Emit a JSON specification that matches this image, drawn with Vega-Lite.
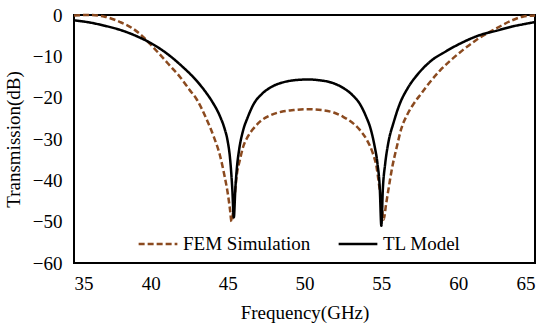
{
  "$schema": "https://vega.github.io/schema/vega-lite/v6.json",
  "width": 461,
  "height": 248,
  "autosize": {"type": "none"},
  "padding": {"left": 74, "top": 15, "right": 15, "bottom": 67},
  "background": "white",
  "config": {
    "view": {"stroke": "black", "strokeWidth": 2},
    "font": "Liberation Serif",
    "axis": {
      "grid": false, "ticks": false, "domain": false,
      "labelFont": "Liberation Serif", "labelFontSize": 19, "labelColor": "black",
      "titleFont": "Liberation Serif", "titleFontSize": 19, "titleColor": "black", "titleFontWeight": "normal"
    }
  },
  "datasets": {
    "fem": [
      {"f": 35, "t": -0.1}, {"f": 36, "t": 0}, {"f": 37, "t": -0.4}, {"f": 38, "t": -1.7},
      {"f": 38.8, "t": -3.2}, {"f": 39.5, "t": -5.3}, {"f": 40, "t": -7.2}, {"f": 40.6, "t": -9.6},
      {"f": 41.3, "t": -12.5}, {"f": 41.9, "t": -15}, {"f": 42.5, "t": -18}, {"f": 43, "t": -20.5},
      {"f": 43.6, "t": -25}, {"f": 44.1, "t": -29.5}, {"f": 44.5, "t": -34}, {"f": 44.8, "t": -39},
      {"f": 45.0, "t": -43}, {"f": 45.15, "t": -47}, {"f": 45.25, "t": -50}, {"f": 45.4, "t": -46},
      {"f": 45.6, "t": -38.5}, {"f": 45.8, "t": -35}, {"f": 46.0, "t": -32}, {"f": 46.3, "t": -29.5},
      {"f": 46.65, "t": -27.6}, {"f": 47.1, "t": -25.8}, {"f": 47.7, "t": -24.4}, {"f": 48.5, "t": -23.4},
      {"f": 49.3, "t": -23}, {"f": 50.2, "t": -22.8}, {"f": 51.1, "t": -23}, {"f": 51.9, "t": -23.6},
      {"f": 52.5, "t": -24.6}, {"f": 53.1, "t": -26}, {"f": 53.6, "t": -27.8}, {"f": 54.1, "t": -30.5},
      {"f": 54.45, "t": -33.5}, {"f": 54.7, "t": -37}, {"f": 54.85, "t": -41}, {"f": 55.0, "t": -45},
      {"f": 55.15, "t": -49.5}, {"f": 55.3, "t": -46}, {"f": 55.45, "t": -42.5}, {"f": 55.7, "t": -37},
      {"f": 56.0, "t": -32}, {"f": 56.3, "t": -27.5}, {"f": 56.7, "t": -24}, {"f": 57.1, "t": -21.5},
      {"f": 57.6, "t": -19}, {"f": 58.0, "t": -17}, {"f": 58.8, "t": -13.5}, {"f": 59.5, "t": -11},
      {"f": 60.3, "t": -8.5}, {"f": 61.2, "t": -6}, {"f": 62, "t": -4.2}, {"f": 62.8, "t": -2.6},
      {"f": 63.5, "t": -1.3}, {"f": 64.2, "t": -0.4}, {"f": 65, "t": -0.1}
    ],
    "tl": [
      {"f": 35, "t": -1.3}, {"f": 36, "t": -1.8}, {"f": 37, "t": -2.6}, {"f": 38, "t": -3.6},
      {"f": 39, "t": -5.0}, {"f": 40, "t": -6.8}, {"f": 41, "t": -9.2}, {"f": 42, "t": -12.3},
      {"f": 43, "t": -16.0}, {"f": 43.5, "t": -18.3}, {"f": 44, "t": -21.0}, {"f": 44.5, "t": -24.5},
      {"f": 44.8, "t": -27.5}, {"f": 45.0, "t": -30.5}, {"f": 45.15, "t": -34.5}, {"f": 45.3, "t": -42},
      {"f": 45.4, "t": -49}, {"f": 45.5, "t": -42}, {"f": 45.6, "t": -37}, {"f": 45.75, "t": -32.5},
      {"f": 46.0, "t": -28}, {"f": 46.3, "t": -24.8}, {"f": 46.7, "t": -21.5}, {"f": 47.2, "t": -19.2},
      {"f": 47.8, "t": -17.5}, {"f": 48.5, "t": -16.4}, {"f": 49.3, "t": -15.8}, {"f": 50.2, "t": -15.6},
      {"f": 51, "t": -15.8}, {"f": 51.8, "t": -16.4}, {"f": 52.5, "t": -17.6}, {"f": 53.1, "t": -19.3},
      {"f": 53.6, "t": -21.5}, {"f": 54.0, "t": -24.5}, {"f": 54.3, "t": -27.5}, {"f": 54.55, "t": -31.5},
      {"f": 54.75, "t": -36}, {"f": 54.9, "t": -42}, {"f": 55.0, "t": -51}, {"f": 55.1, "t": -42},
      {"f": 55.25, "t": -36}, {"f": 55.45, "t": -31}, {"f": 55.8, "t": -26}, {"f": 56.2, "t": -21.5},
      {"f": 56.7, "t": -17.8}, {"f": 57.4, "t": -14.2}, {"f": 58.2, "t": -11.2}, {"f": 59.2, "t": -8.8},
      {"f": 60.3, "t": -6.6}, {"f": 61.3, "t": -5.0}, {"f": 62.5, "t": -3.8}, {"f": 63.5, "t": -2.8},
      {"f": 64.3, "t": -2.2}, {"f": 65, "t": -1.7}
    ]
  },
  "encoding": {
    "x": {
      "field": "f", "type": "quantitative", "title": "Frequency(GHz)",
      "scale": {"domain": [35, 65], "nice": false, "zero": false},
      "axis": {"values": [35, 40, 45, 50, 55, 60, 65], "labelPadding": 11, "titlePadding": 10}
    },
    "y": {
      "field": "t", "type": "quantitative", "title": "Transmission(dB)",
      "scale": {"domain": [-60, 0], "nice": false},
      "axis": {"values": [-60, -50, -40, -30, -20, -10, 0], "labelPadding": 12, "titlePadding": 9}
    }
  },
  "layer": [
    {
      "data": {"name": "fem"},
      "mark": {"type": "line", "strokeWidth": 2.5, "interpolate": "monotone"},
      "encoding": {
        "color": {"datum": "FEM Simulation", "type": "nominal",
          "scale": {"domain": ["FEM Simulation", "TL Model"], "range": ["#8B4A1F", "#000000"]},
          "legend": {
            "title": null, "orient": "none", "legendX": 63, "legendY": 208, "direction": "horizontal",
            "labelFont": "Liberation Serif", "labelFontSize": 19, "labelColor": "black",
            "symbolType": "stroke", "symbolSize": 1500, "symbolStrokeWidth": 2.5,
            "columnPadding": 22, "labelOffset": 4
          }},
        "strokeDash": {"datum": "FEM Simulation", "type": "nominal",
          "scale": {"domain": ["FEM Simulation", "TL Model"], "range": [[6, 3], [1, 0]]},
          "legend": {
            "title": null, "orient": "none", "legendX": 63, "legendY": 208, "direction": "horizontal",
            "labelFont": "Liberation Serif", "labelFontSize": 19, "labelColor": "black",
            "symbolType": "stroke", "symbolSize": 1500, "symbolStrokeWidth": 2.5,
            "columnPadding": 22, "labelOffset": 4
          }}
      }
    },
    {
      "data": {"name": "tl"},
      "mark": {"type": "line", "strokeWidth": 2.5, "interpolate": "monotone"},
      "encoding": {
        "color": {"datum": "TL Model", "type": "nominal"},
        "strokeDash": {"datum": "TL Model", "type": "nominal"}
      }
    }
  ],
  "resolve": {"scale": {"color": "shared", "strokeDash": "shared"}}
}
